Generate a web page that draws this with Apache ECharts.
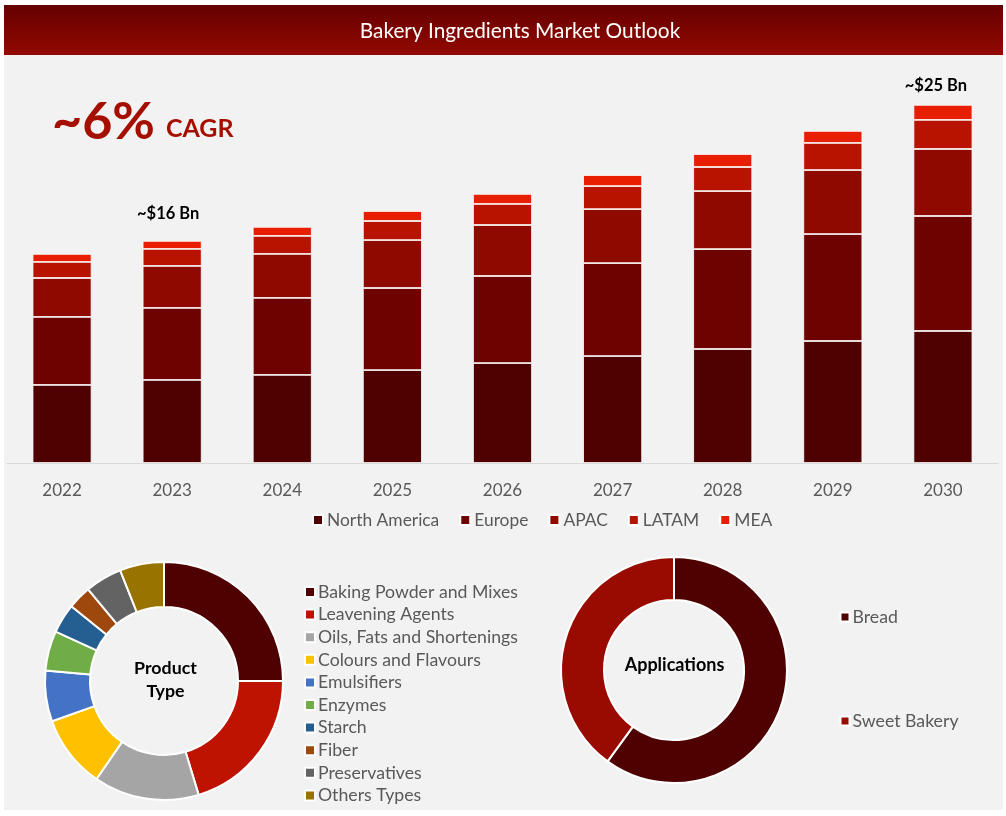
<!DOCTYPE html>
<html>
<head>
<meta charset="utf-8">
<title>Bakery Ingredients Market Outlook</title>
<script src="https://cdn.jsdelivr.net/npm/echarts@6/dist/echarts.min.js"></script>
<style>
    html, body { margin: 0; padding: 0; background: #ffffff; }
    #chart { width: 1006px; height: 816px; }
</style>
</head>
<body>
<div id="chart"></div>
<script>
'use strict';
var years = ['2022', '2023', '2024', '2025', '2026', '2027', '2028', '2029', '2030'];
var northAmerica = [5.45, 5.80, 6.15, 6.49, 6.98, 7.47, 7.96, 8.52, 9.22];
var europe = [4.75, 5.03, 5.38, 5.73, 6.08, 6.49, 6.98, 7.47, 8.03];
var apac = [2.72, 2.93, 3.07, 3.35, 3.56, 3.77, 4.05, 4.47, 4.68];
var latam = [1.12, 1.19, 1.26, 1.33, 1.47, 1.61, 1.68, 1.89, 2.03];
var mea = [0.56, 0.56, 0.63, 0.70, 0.70, 0.77, 0.91, 0.84, 1.05];
var regionNames = ['North America', 'Europe', 'APAC', 'LATAM', 'MEA'];
var regionColors = ['#4f0000', '#6e0200', '#8e0a00', '#b81200', '#e81e00'];

var productNames = ['Baking Powder and Mixes', 'Leavening Agents', 'Oils, Fats and Shortenings', 'Colours and Flavours',
    'Emulsifiers', 'Enzymes', 'Starch', 'Fiber', 'Preservatives', 'Others Types'];
var productValues = [25, 20.3, 14.3, 9.9, 6.9, 5.4, 4, 3.2, 5, 6];
var productColors = ['#4f0000', '#bd1300', '#a5a5a5', '#ffc000', '#4472c4', '#70ad47', '#255e91', '#9e480e', '#636363', '#997300'];

var applicationNames = ['Bread', 'Sweet Bakery'];
var applicationValues = [60, 40];
var applicationColors = ['#4f0000', '#990a00'];

var fontName = 'Lato';
var legendText = {color: '#595959', fontSize: 17.7, lineHeight: 18, fontFamily: fontName, padding: [0, 0, 0, -2]};
var chart = echarts.init(document.getElementById('chart'));

function barSeries(index, values) {
    return {
        name: regionNames[index],
        type: 'bar',
        stack: 'market',
        barWidth: 59,
        data: values,
        itemStyle: {
            color: regionColors[index],
            borderColor: '#ffffff',
            borderWidth: 0.8
        }
    };
}

// the two totals sit on top of the last stack
var meaData = mea.map(function (value, i) {
    if (years[i] === '2023') {
        return {value: value, label: {show: true, formatter: '~$16 Bn', distance: 19, offset: [-4, 0]}};
    }
    if (years[i] === '2030') {
        return {value: value, label: {show: true, formatter: '~$25 Bn', distance: 11, offset: [-7, 0]}};
    }
    return value;
});

function pieData(names, values) {
    return names.map(function (name, i) {
        return {name: name, value: values[i]};
    });
}

var meaSeries = barSeries(4, meaData);
meaSeries.label = {
    show: false,
    position: 'top',
    color: '#000000',
    fontFamily: fontName,
    fontSize: 16.5,
    fontWeight: 'bold'
};

var options = {
    animation: false,
    backgroundColor: '#ffffff',
    textStyle: {fontFamily: fontName},
    graphic: [
        {type: 'rect', z: -1, shape: {x: 4, y: 5, width: 999, height: 805}, style: {fill: '#f2f2f2'}},
        {
            type: 'rect', z: -1, shape: {x: 4, y: 5, width: 999, height: 50},
            style: {
                fill: {
                    type: 'linear', x: 0, y: 0, x2: 0, y2: 1,
                    colorStops: [{offset: 0, color: '#650000'}, {offset: 1, color: '#930900'}]
                }
            }
        },
        {type: 'text', z: 10, x: 520, y: 31, style: {text: 'Bakery Ingredients Market Outlook', fill: '#ffffff', font: '20.8px Lato', textAlign: 'center', textVerticalAlign: 'middle'}},
        {type: 'text', z: 10, x: 52, y: 122, style: {text: '~6%', fill: '#a50f00', font: 'bold 52px Lato', textVerticalAlign: 'middle'}},
        {type: 'text', z: 10, x: 166, y: 129, style: {text: 'CAGR', fill: '#a50f00', font: 'bold 25px Lato', textVerticalAlign: 'middle'}},
        {type: 'text', z: 10, x: 165.5, y: 668, style: {text: 'Product', fill: '#000000', font: 'bold 17.8px Lato', textAlign: 'center', textVerticalAlign: 'middle'}},
        {type: 'text', z: 10, x: 165.5, y: 691, style: {text: 'Type', fill: '#000000', font: 'bold 17.8px Lato', textAlign: 'center', textVerticalAlign: 'middle'}},
        {type: 'text', z: 10, x: 674.5, y: 665, style: {text: 'Applications', fill: '#000000', font: 'bold 18px Lato', textAlign: 'center', textVerticalAlign: 'middle'}}
    ],
    color: regionColors,
    legend: [
        {
            data: regionNames,
            left: 312,
            top: 511,
            padding: 0,
            icon: 'rect',
            itemWidth: 10,
            itemHeight: 10,
            itemGap: 20,
            textStyle: {color: '#595959', fontSize: 17.4, lineHeight: 18, fontFamily: fontName, padding: [0, 0, 0, -1]}
        },
        {
            data: productNames,
            orient: 'vertical',
            left: 304,
            top: 583,
            padding: 0,
            icon: 'rect',
            itemWidth: 10,
            itemHeight: 10,
            itemGap: 4.6,
            textStyle: legendText
        },
        {
            data: applicationNames,
            orient: 'vertical',
            left: 839.5,
            top: 608,
            padding: 0,
            icon: 'rect',
            itemWidth: 9,
            itemHeight: 9,
            itemGap: 86,
            textStyle: legendText
        }
    ],
    grid: {
        left: 7,
        right: 8,
        top: 90.7,
        height: 372.3,
        containLabel: false
    },
    xAxis: {
        type: 'category',
        data: years,
        axisLine: {lineStyle: {color: '#d9d9d9', width: 1}},
        axisTick: {show: false},
        axisLabel: {color: '#595959', fontSize: 17, fontFamily: fontName, margin: 19}
    },
    yAxis: {
        type: 'value',
        min: 0,
        max: 26,
        show: false
    },
    series: [
        barSeries(0, northAmerica),
        barSeries(1, europe),
        barSeries(2, apac),
        barSeries(3, latam),
        meaSeries,
        {
            name: 'Product Type',
            type: 'pie',
            center: [164, 681],
            radius: [74, 119],
            startAngle: 90,
            label: {show: false},
            labelLine: {show: false},
            color: productColors,
            itemStyle: {borderColor: '#ffffff', borderWidth: 2},
            data: pieData(productNames, productValues)
        },
        {
            name: 'Applications',
            type: 'pie',
            center: [674, 670],
            radius: [70, 113],
            startAngle: 90,
            label: {show: false},
            labelLine: {show: false},
            color: applicationColors,
            itemStyle: {borderColor: '#ffffff', borderWidth: 2},
            data: pieData(applicationNames, applicationValues)
        }
    ]
};
chart.setOption(options);
</script>
</body>
</html>
